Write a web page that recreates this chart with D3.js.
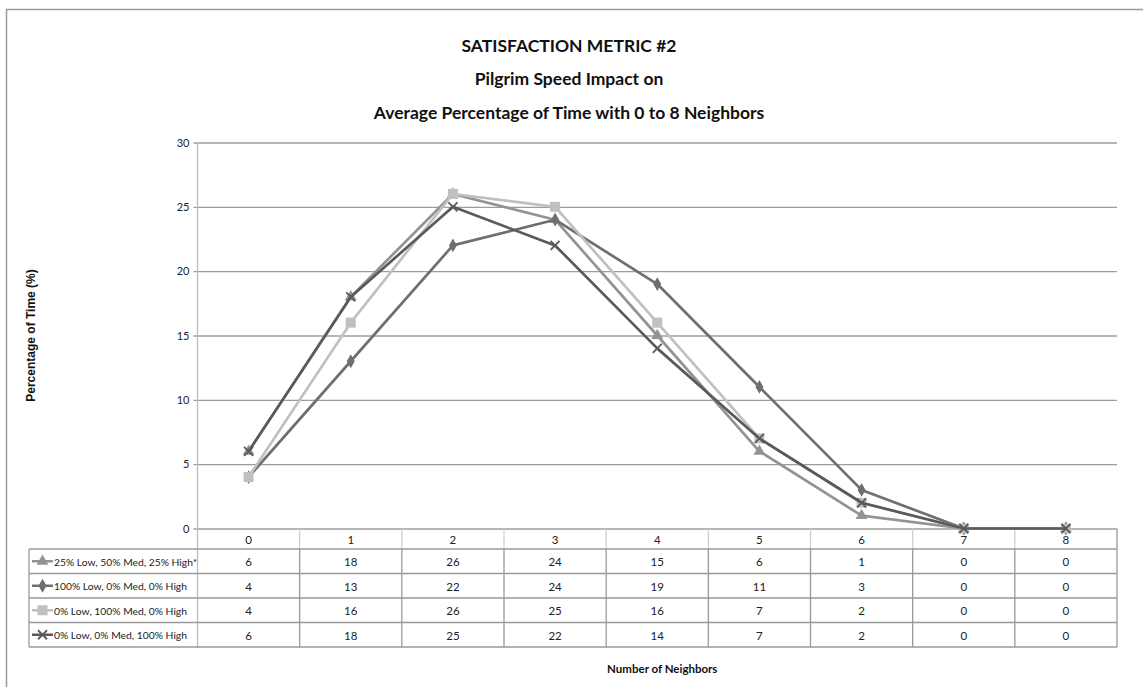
<!DOCTYPE html>
<html>
<head>
<meta charset="utf-8">
<script src="https://cdn.jsdelivr.net/npm/d3@7"></script>
<style>
  html, body { margin: 0; padding: 0; background: #fff; }
  svg { display: block; }
  .cal { font-family: Lato, "Open Sans", sans-serif; }
</style>
</head>
<body>
<svg id="chart" width="1143" height="687"></svg>
<script>
// ---- DATA ----
const categories = ["0", "1", "2", "3", "4", "5", "6", "7", "8"];
const seriesNames = [
  "25% Low, 50% Med, 25% High*",
  "100% Low, 0% Med, 0% High",
  "0% Low, 100% Med, 0% High",
  "0% Low, 0% Med, 100% High"
];
const s1Values = [6, 18, 26, 24, 15, 6, 1, 0, 0];
const s2Values = [4, 13, 22, 24, 19, 11, 3, 0, 0];
const s3Values = [4, 16, 26, 25, 16, 7, 2, 0, 0];
const s4Values = [6, 18, 25, 22, 14, 7, 2, 0, 0];
const yTicks = [0, 5, 10, 15, 20, 25, 30];
const titleLines = ["SATISFACTION METRIC #2", "Pilgrim Speed Impact on", "Average Percentage of Time with 0 to 8 Neighbors"];
const yAxisTitle = "Percentage of Time (%)";
const xAxisTitle = "Number of Neighbors";

const seriesValues = [s1Values, s2Values, s3Values, s4Values];
const seriesColors = ["#939393", "#6f6f6f", "#c0c0c0", "#5a5a5a"];
const seriesMarkers = ["triangle", "diamond", "square", "cross"];

// ---- LAYOUT ----
const svg = d3.select("#chart");
const plotLeft = 197.5, plotRight = 1117, plotTop = 142.5, plotBottom = 528.5;
const headH = 20.5, rowH = 24.5;
const tableLeft = 29;

const x = d3.scaleBand().domain(categories).range([plotLeft, plotRight]).padding(0);
const y = d3.scaleLinear().domain([0, 30]).range([plotBottom, plotTop]);
const cx = c => x(c) + x.bandwidth() / 2;
const rowTop = r => plotBottom + headH + rowH * r;  // r = 0..4
const tableBottom = rowTop(4);

// chart frame
svg.append("path")
  .attr("d", `M6.5,700 L6.5,9.5 L1150,9.5`)
  .attr("fill", "none").attr("stroke", "#9a9a9a").attr("stroke-width", 1.5);

// title
const title = svg.append("g").attr("class", "cal");
titleLines.forEach((t, i) => {
  title.append("text")
    .attr("x", 569).attr("y", 51.5 + i * 33.5)
    .attr("text-anchor", "middle")
    .attr("font-weight", "bold").attr("font-size", 17.5).attr("fill", "#111")
    .text(t);
});

// gridlines + y axis
const yAxis = d3.axisLeft(y).tickValues(yTicks).tickSize(-(plotRight - plotLeft)).tickPadding(8);
const yg = svg.append("g").attr("class", "cal").attr("transform", `translate(${plotLeft},0)`).call(yAxis);
yg.select(".domain").remove();
yg.selectAll(".tick line").attr("stroke", "#9c9c9c").attr("stroke-width", 1.3).attr("x1", -4);
yg.selectAll(".tick text").attr("font-size", 11).attr("fill", "#222").attr("font-family", "inherit");

// y axis line (extends through table)
svg.append("line")
  .attr("x1", plotLeft).attr("x2", plotLeft)
  .attr("y1", plotTop).attr("y2", tableBottom + 1)
  .attr("stroke", "#bdbdbd").attr("stroke-width", 1.3);

// y axis title
svg.append("text")
  .attr("transform", `translate(34.5,${(plotTop + plotBottom) / 2}) rotate(-90)`)
  .attr("text-anchor", "middle")
  .attr("font-family", "Liberation Sans, Arial, sans-serif")
  .attr("font-weight", "bold").attr("font-size", 12).attr("fill", "#111")
  .text(yAxisTitle);

// ---- DATA TABLE ----
const tbl = svg.append("g").attr("class", "cal");
categories.forEach((c, i) => {
  if (i === 0) return;
  tbl.append("line").attr("x1", x(c)).attr("x2", x(c))
    .attr("y1", plotBottom).attr("y2", rowTop(0))
    .attr("stroke", "#cfcfcf").attr("stroke-width", 1.3);
  tbl.append("line").attr("x1", x(c)).attr("x2", x(c))
    .attr("y1", rowTop(0)).attr("y2", tableBottom)
    .attr("stroke", "#999").attr("stroke-width", 1.3);
});
tbl.append("line").attr("x1", plotRight).attr("x2", plotRight)
  .attr("y1", plotBottom).attr("y2", tableBottom)
  .attr("stroke", "#999").attr("stroke-width", 1.3);
tbl.append("line").attr("x1", tableLeft).attr("x2", tableLeft)
  .attr("y1", rowTop(0)).attr("y2", tableBottom)
  .attr("stroke", "#999").attr("stroke-width", 1.3);
for (let r = 0; r <= 4; r++) {
  tbl.append("line").attr("x1", tableLeft).attr("x2", plotRight)
    .attr("y1", rowTop(r)).attr("y2", rowTop(r))
    .attr("stroke", "#999").attr("stroke-width", 1.3);
}
categories.forEach(c => {
  tbl.append("text").attr("x", cx(c)).attr("y", plotBottom + headH / 2 + 5)
    .attr("text-anchor", "middle").attr("font-size", 11.5).attr("fill", "#222").text(c);
});

function drawMarker(g, type, px, py, color) {
  if (type === "triangle") {
    g.append("path").attr("d", d3.symbol(d3.symbolTriangle, 60)()).attr("transform", `translate(${px},${py})`).attr("fill", color);
  } else if (type === "diamond") {
    g.append("path").attr("d", d3.symbol(d3.symbolDiamond, 55)()).attr("transform", `translate(${px},${py})`).attr("fill", color);
  } else if (type === "square") {
    g.append("rect").attr("x", px - 5).attr("y", py - 5).attr("width", 10).attr("height", 10).attr("fill", color);
  } else {
    g.append("path").attr("d", `M${px - 4.5},${py - 4.5}L${px + 4.5},${py + 4.5}M${px - 4.5},${py + 4.5}L${px + 4.5},${py - 4.5}`)
      .attr("stroke", color).attr("stroke-width", 1.8);
  }
}

seriesNames.forEach((name, si) => {
  const rowMid = rowTop(si) + rowH / 2;
  tbl.append("line").attr("x1", 32).attr("x2", 53).attr("y1", rowMid).attr("y2", rowMid)
    .attr("stroke", seriesColors[si]).attr("stroke-width", 2.5);
  drawMarker(tbl, seriesMarkers[si], 42.5, rowMid, seriesColors[si]);
  tbl.append("text").attr("x", 54).attr("y", rowMid + 4.5)
    .attr("font-size", 10.3).attr("fill", "#222").text(name);
  categories.forEach((c, i) => {
    tbl.append("text").attr("x", cx(c)).attr("y", rowMid + 5)
      .attr("text-anchor", "middle").attr("font-size", 11.5).attr("fill", "#222")
      .text(seriesValues[si][i]);
  });
});

// x axis title (centered on the plot area)
svg.append("text").attr("class", "cal")
  .attr("x", (plotLeft + plotRight) / 2 + 5).attr("y", 673)
  .attr("text-anchor", "middle").attr("font-weight", "bold").attr("font-size", 11.5).attr("fill", "#111")
  .text(xAxisTitle);

// ---- LINES ----
const lineGen = d3.line().x((d, i) => cx(categories[i])).y(d => y(d));
const lines = svg.append("g");
seriesValues.forEach((vals, si) => {
  lines.append("path").attr("d", lineGen(vals)).attr("fill", "none")
    .attr("stroke", seriesColors[si]).attr("stroke-width", 2.7).attr("stroke-linejoin", "round");
  vals.forEach((v, i) => drawMarker(lines, seriesMarkers[si], cx(categories[i]), y(v), seriesColors[si]));
});
</script>
</body>
</html>
